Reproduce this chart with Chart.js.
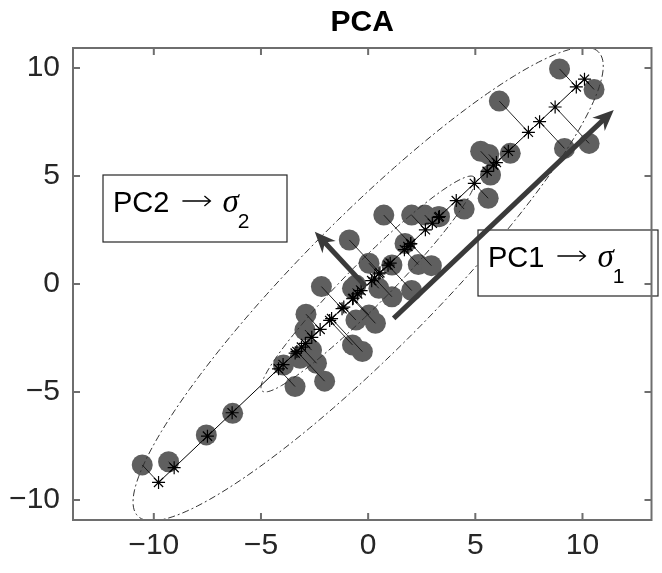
<!DOCTYPE html>
<html>
<head>
<meta charset="utf-8">
<script src="https://cdn.jsdelivr.net/npm/chart.js@4.4.1/dist/chart.umd.min.js"></script>
<style>
    body { margin: 0; background: #fff; }
    canvas { display: block; }
</style>
</head>
<body>
<canvas id="pcaChart" width="662" height="573"></canvas>
<script>
// 样本点坐标
const xData = [8.93, 10.54, 6.12, 9.16, 10.31, 6.63, 5.25, 5.63, 5.71, 5.60, 4.48, 3.33,
    0.73, 2.03, 2.64, 3.26, -0.88, 1.72, 0.04, 1.11, 2.34, 2.95, -0.57, 0.50, 2.03,
    -2.18, -0.73, -2.90, 0.04, 0.34, -0.73, -0.27, -3.18, -2.41, -2.03, 1.11, -2.95,
    -2.64, -3.95, -3.41, -6.32, -7.55, -9.31, -10.54, -0.57];
const yData = [9.96, 9.01, 8.47, 6.28, 6.51, 6.05, 6.15, 6.00, 5.05, 3.97, 3.47, 3.12,
    3.19, 3.19, 3.19, 3.12, 2.04, 1.88, 0.96, 0.88, 0.90, 0.85, -0.05, -0.20, -0.30,
    -0.12, -0.20, -1.40, -1.44, -1.82, -2.82, -3.13, -3.44, -3.67, -4.50, -0.59, -2.13,
    -3.06, -3.75, -4.75, -5.99, -6.99, -8.23, -8.38, -1.67];

// 坐标轴刻度
const xTicks = [-10, -5, 0, 5, 10];
const yTicks = [-10, -5, 0, 5, 10];

// 投影中心与椭圆 (长半轴, 短半轴, 角度)
const projCenter = [0, 0];
const outerEllipse = [15.2, 3.1, 45];
const innerEllipse = [7.0, 1.0, 45];

// 箭头: 起点x, 起点y, 终点x, 终点y
const pc1Arrow = [1.19, -1.59, 11.46, 8.06];
const pc2Arrow = [-0.11, -0.12, -2.49, 2.42];

// 主成分方向
const n = xData.length;
const mx = xData.reduce((a, b) => a + b, 0) / n;
const my = yData.reduce((a, b) => a + b, 0) / n;
let sxx = 0, syy = 0, sxy = 0;
for (let i = 0; i < n; i++) {
    sxx += (xData[i] - mx) ** 2;
    syy += (yData[i] - my) ** 2;
    sxy += (xData[i] - mx) * (yData[i] - my);
}
const theta = 0.5 * Math.atan2(2 * sxy, sxx - syy);
const ux = Math.cos(theta), uy = Math.sin(theta);

const samples = xData.map((x, i) => ({ x: x, y: yData[i] }));
const residuals = [];
const proj = [];
samples.forEach(p => {
    const t = (p.x - projCenter[0]) * ux + (p.y - projCenter[1]) * uy;
    const q = { x: projCenter[0] + t * ux, y: projCenter[1] + t * uy, t: t };
    proj.push(q);
    residuals.push({ x: p.x, y: p.y }, { x: q.x, y: q.y }, { x: null, y: null });
});
proj.sort((a, b) => a.t - b.t);
const projLine = proj.map(q => ({ x: q.x, y: q.y }));

function ellipsePoints(e) {
    const ang = e[2] * Math.PI / 180;
    const ca = Math.cos(ang), sa = Math.sin(ang);
    const pts = [];
    for (let k = 0; k <= 360; k += 2) {
        const a = k * Math.PI / 180;
        const px = e[0] * Math.cos(a), py = e[1] * Math.sin(a);
        pts.push({ x: projCenter[0] + px * ca - py * sa, y: projCenter[1] + px * sa + py * ca });
    }
    return pts;
}

function drawArrow(ctx, x0, y0, x1, y1) {
    const ang = Math.atan2(y1 - y0, x1 - x0);
    const head = 21, half = 9;
    const c = Math.cos(ang), s = Math.sin(ang);
    const bx = x1 - head * c, by = y1 - head * s;
    ctx.strokeStyle = '#3a3a3a';
    ctx.fillStyle = '#3a3a3a';
    ctx.lineWidth = 5;
    ctx.lineCap = 'butt';
    ctx.beginPath();
    ctx.moveTo(x0, y0);
    ctx.lineTo(x1 - head * 0.6 * c, y1 - head * 0.6 * s);
    ctx.stroke();
    ctx.beginPath();
    ctx.moveTo(x1, y1);
    ctx.lineTo(bx - half * s, by + half * c);
    ctx.lineTo(x1 - head * 0.7 * c, y1 - head * 0.7 * s);
    ctx.lineTo(bx + half * s, by - half * c);
    ctx.closePath();
    ctx.fill();
}

function drawLabel(ctx, left, top, right, bottom, baseY, name, sub) {
    ctx.fillStyle = '#fff';
    ctx.fillRect(left, top, right - left, bottom - top);
    ctx.strokeStyle = '#262626';
    ctx.lineWidth = 1.2;
    ctx.strokeRect(left, top, right - left, bottom - top);
    ctx.fillStyle = '#000';
    ctx.strokeStyle = '#000';
    ctx.textAlign = 'left';
    ctx.textBaseline = 'alphabetic';
    let x = left + 10;
    ctx.font = '29px "Liberation Sans"';
    ctx.fillText(name, x, baseY);
    x += ctx.measureText(name).width + 13;
    // 细长箭头
    const ay = baseY - 11;
    ctx.lineWidth = 1.3;
    ctx.beginPath();
    ctx.moveTo(x, ay);
    ctx.lineTo(x + 28, ay);
    ctx.moveTo(x + 22, ay - 5);
    ctx.lineTo(x + 28, ay);
    ctx.lineTo(x + 22, ay + 5);
    ctx.stroke();
    x += 40;
    ctx.font = 'italic 33px "Liberation Serif"';
    ctx.fillText('\u03c3', x, baseY);
    x += ctx.measureText('\u03c3').width;
    ctx.font = '21px "Liberation Sans"';
    ctx.fillText(sub, x - 1, baseY + 16);
}

const decorPlugin = {
    id: 'pcaDecor',
    afterDatasetsDraw(chart) {
        const { ctx, chartArea: area, scales } = chart;
        const sx = scales.x, sy = scales.y;
        ctx.save();
        // 文本框
        drawLabel(ctx, 103, 175, 287, 242, 212, 'PC2', '2');
        drawLabel(ctx, 478, 230, 658, 296, 267, 'PC1', '1');
        // 箭头
        [pc1Arrow, pc2Arrow].forEach(a => {
            drawArrow(ctx, sx.getPixelForValue(a[0]), sy.getPixelForValue(a[1]),
                sx.getPixelForValue(a[2]), sy.getPixelForValue(a[3]));
        });
        // 边框和内刻度
        ctx.strokeStyle = '#6e6e6e';
        ctx.lineWidth = 2;
        ctx.strokeRect(area.left, area.top, area.right - area.left, area.bottom - area.top);
        ctx.beginPath();
        xTicks.forEach(v => {
            const px = sx.getPixelForValue(v);
            ctx.moveTo(px, area.bottom); ctx.lineTo(px, area.bottom - 7);
            ctx.moveTo(px, area.top); ctx.lineTo(px, area.top + 7);
        });
        yTicks.forEach(v => {
            const py = sy.getPixelForValue(v);
            ctx.moveTo(area.left, py); ctx.lineTo(area.left + 7, py);
            ctx.moveTo(area.right, py); ctx.lineTo(area.right - 7, py);
        });
        ctx.stroke();
        ctx.restore();
    },
    afterDraw(chart) {
        const { ctx, chartArea: area } = chart;
        ctx.save();
        ctx.fillStyle = '#000';
        ctx.font = 'bold 30px "Liberation Sans"';
        ctx.textAlign = 'center';
        ctx.textBaseline = 'alphabetic';
        ctx.fillText('PCA', (area.left + area.right) / 2, 31);
        ctx.restore();
    }
};

const tickFont = { family: '"Liberation Sans"', size: 30 };
const fmt = v => (v < 0 ? '\u2212' + Math.abs(v) : String(v));

new Chart(document.getElementById('pcaChart').getContext('2d'), {
    type: 'scatter',
    data: {
        datasets: [{
            label: 'projection',
            data: projLine,
            showLine: true,
            borderColor: '#000',
            borderWidth: 1,
            pointStyle: 'star',
            pointRadius: 6.5,
            pointBorderColor: '#000',
            pointBorderWidth: 1.2,
            pointBackgroundColor: 'rgba(0,0,0,0)'
        }, {
            label: 'residual',
            data: residuals,
            showLine: true,
            spanGaps: false,
            borderColor: '#111',
            borderWidth: 0.9,
            pointRadius: 0
        }, {
            label: 'inner',
            data: ellipsePoints(innerEllipse),
            showLine: true,
            borderColor: '#333',
            borderWidth: 1,
            borderDash: [7, 3, 2, 3],
            pointRadius: 0
        }, {
            label: 'outer',
            data: ellipsePoints(outerEllipse),
            showLine: true,
            borderColor: '#333',
            borderWidth: 1,
            borderDash: [7, 3, 2, 3],
            pointRadius: 0
        }, {
            label: 'samples',
            data: samples,
            pointRadius: 10.5,
            backgroundColor: '#5f5f5f',
            borderWidth: 0
        }]
    },
    options: {
        responsive: false,
        animation: false,
        devicePixelRatio: 1,
        layout: { padding: { top: 48, right: 2, left: 0, bottom: 0 } },
        plugins: {
            legend: { display: false },
            tooltip: { enabled: false },
            title: { display: false }
        },
        scales: {
            x: {
                type: 'linear',
                min: -13.77,
                max: 13.22,
                grid: { display: false, drawTicks: false },
                border: { display: false },
                afterBuildTicks: scale => { scale.ticks = xTicks.map(v => ({ value: v })); },
                afterFit: scale => { scale.height = 53; },
                ticks: { font: tickFont, color: '#262626', padding: 8, callback: fmt, maxRotation: 0 }
            },
            y: {
                type: 'linear',
                min: -10.93,
                max: 10.93,
                grid: { display: false, drawTicks: false },
                border: { display: false },
                afterBuildTicks: scale => { scale.ticks = yTicks.map(v => ({ value: v })); },
                afterFit: scale => { scale.width = 73; },
                ticks: { font: tickFont, color: '#262626', padding: 13, callback: fmt }
            }
        }
    },
    plugins: [decorPlugin]
});
</script>
</body>
</html>
